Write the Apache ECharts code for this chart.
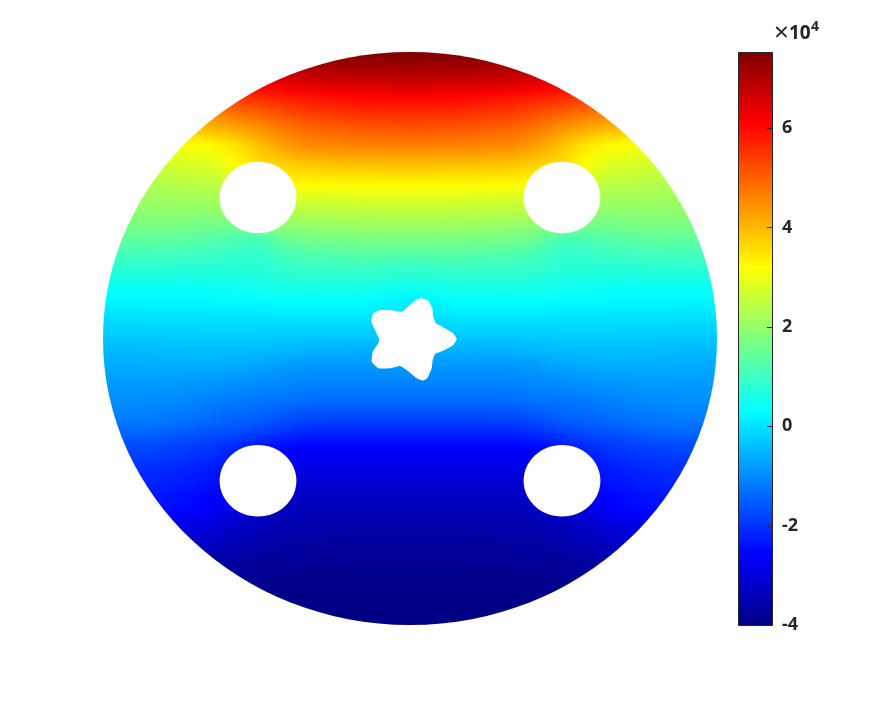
<!DOCTYPE html>
<html><head><meta charset="utf-8">
<script src="https://cdn.jsdelivr.net/npm/echarts@6/dist/echarts.min.js"></script>
<style>html,body{margin:0;padding:0;background:#fff}#c{width:891px;height:703px}</style>
</head><body><div id="c"></div>
<script>
// Field values are in units of 100; columns are distance from the vertical mid-line
const colOffsets = [0,50,100,125,152,175,200,230,265,307];
const rowY = [55,61,67,73,79,85,91,97,103,109,115,121,127,133,139,145,151,157,163,169,175,181,187,193,199,205,211,217,223,229,235,241,247,253,259,265,271,277,283,289,295,301,307,313,319,325,331,337,343,349,355,361,367,373,379,385,391,397,403,409,415,421,427,433,439,445,451,457,463,469,475,481,487,493,499,505,511,517,523,529,535,541,547,553,559,565,571,577,583,589,595,601,607,613,619,625];
const rowValues = [
[750,748,745,740,735,730,725,720,715,710],
[733,730,725,720,710,700,690,680,670,660],
[715,712,705,695,685,675,660,650,640,630],
[697,694,685,675,660,650,635,620,610,600],
[678,675,665,655,640,625,610,590,580,570],
[657,653,642,632,615,600,585,565,550,540],
[630,626,616,606,590,576,560,540,525,515],
[608,603,590,578,563,548,530,510,495,485],
[591,586,572,558,540,525,505,485,470,460],
[573,568,553,537,515,498,478,458,445,435],
[555,550,535,517,492,472,450,430,420,410],
[537,532,516,497,468,448,425,405,395,385],
[519,514,498,478,447,427,405,385,375,365],
[501,497,482,462,428,400,380,360,350,340],
[483,480,468,448,410,375,350,335,325,315],
[465,462,455,432,390,350,325,315,305,295],
[443,441,434,416,378,340,312,303,292,282],
[422,420,414,398,370,330,300,290,278,268],
[400,398,390,378,358,318,288,278,262,252],
[380,378,372,360,346,305,277,266,250,240],
[358,356,352,345,335,288,265,256,242,232],
[337,336,334,328,320,268,252,247,236,226],
[316,315,314,308,300,255,240,236,228,222],
[298,297,296,290,282,244,228,224,220,216],
[280,279,277,272,264,232,217,214,212,210],
[264,263,260,255,246,221,208,206,205,204],
[248,247,243,237,228,209,196,196,196,195],
[232,231,227,220,206,189,182,184,185,185],
[216,215,210,202,186,170,168,172,175,175],
[200,199,193,184,168,152,156,160,163,163],
[184,183,176,166,132,128,142,148,151,151],
[168,167,159,146,108,112,128,135,138,138],
[152,151,144,130,98,102,114,121,124,124],
[135,134,128,116,92,94,102,108,112,112],
[118,117,112,102,86,87,92,96,99,99],
[103,104,102,95,80,80,82,84,86,86],
[88,92,92,86,72,72,72,73,75,75],
[74,80,80,76,65,63,62,62,62,62],
[60,68,68,66,56,54,53,52,52,52],
[44,58,58,56,48,46,44,43,42,42],
[30,46,46,45,40,37,35,34,33,33],
[18,36,36,34,30,28,26,25,24,24],
[10,26,26,24,20,18,17,16,15,15],
[0,14,14,13,10,8,7,6,5,5],
[-10,2,2,2,0,-1,-2,-3,-4,-4],
[-20,-10,-10,-9,-9,-9,-10,-11,-12,-12],
[-30,-20,-21,-19,-17,-16,-17,-18,-20,-20],
[-38,-30,-30,-28,-25,-24,-24,-26,-28,-30],
[-48,-42,-40,-37,-33,-31,-31,-33,-36,-38],
[-58,-54,-50,-46,-42,-39,-38,-40,-43,-46],
[-68,-66,-62,-56,-51,-47,-45,-47,-50,-52],
[-72,-76,-76,-72,-61,-56,-53,-54,-56,-58],
[-82,-86,-86,-80,-71,-65,-62,-61,-62,-63],
[-92,-94,-94,-88,-81,-75,-71,-68,-68,-68],
[-100,-102,-102,-96,-91,-85,-80,-76,-74,-74],
[-110,-111,-110,-104,-100,-94,-88,-83,-80,-80],
[-118,-118,-118,-112,-108,-103,-96,-90,-86,-86],
[-128,-128,-127,-121,-117,-112,-104,-97,-92,-92],
[-141,-141,-140,-132,-126,-121,-112,-104,-98,-98],
[-155,-155,-154,-145,-135,-129,-120,-111,-104,-104],
[-170,-170,-169,-158,-144,-137,-128,-118,-110,-110],
[-186,-186,-185,-172,-153,-147,-137,-126,-118,-118],
[-201,-201,-200,-188,-168,-158,-152,-140,-130,-128],
[-218,-218,-217,-206,-188,-172,-165,-152,-142,-140],
[-234,-234,-234,-224,-204,-190,-179,-166,-156,-152],
[-250,-250,-250,-244,-230,-208,-190,-180,-170,-166],
[-262,-262,-262,-258,-243,-218,-198,-188,-180,-174],
[-270,-270,-270,-266,-252,-228,-208,-197,-188,-182],
[-279,-279,-279,-276,-262,-238,-218,-206,-197,-190],
[-288,-288,-289,-285,-271,-245,-226,-214,-205,-198],
[-298,-298,-298,-294,-277,-250,-231,-220,-211,-204],
[-307,-307,-307,-302,-281,-252,-234,-224,-214,-207],
[-315,-315,-314,-308,-288,-262,-241,-230,-220,-213],
[-323,-323,-322,-315,-296,-272,-248,-236,-226,-218],
[-330,-330,-329,-322,-303,-281,-255,-240,-231,-224],
[-337,-337,-336,-328,-308,-287,-260,-244,-236,-230],
[-343,-343,-341,-333,-313,-294,-268,-251,-242,-236],
[-349,-349,-347,-340,-324,-306,-282,-263,-252,-244],
[-354,-354,-352,-346,-333,-316,-295,-276,-264,-254],
[-359,-359,-357,-352,-341,-325,-305,-288,-275,-264],
[-364,-364,-361,-357,-346,-332,-312,-296,-284,-274],
[-368,-368,-366,-363,-352,-338,-320,-305,-293,-283],
[-372,-372,-370,-368,-358,-346,-330,-316,-304,-294],
[-376,-376,-374,-372,-366,-356,-342,-330,-318,-308],
[-380,-380,-378,-376,-372,-364,-352,-340,-330,-320],
[-383,-383,-381,-380,-376,-369,-359,-348,-338,-330],
[-386,-386,-385,-384,-380,-374,-365,-356,-346,-338],
[-388,-388,-388,-387,-384,-379,-371,-362,-354,-346],
[-391,-391,-390,-389,-387,-383,-377,-369,-361,-354],
[-393,-393,-392,-391,-389,-386,-381,-374,-367,-360],
[-395,-395,-394,-393,-391,-389,-385,-379,-373,-367],
[-396,-396,-395,-395,-393,-391,-388,-383,-378,-372],
[-397,-397,-397,-396,-395,-393,-391,-387,-382,-377],
[-398,-398,-398,-397,-396,-395,-393,-390,-386,-382],
[-399,-399,-399,-398,-398,-397,-395,-392,-389,-386],
[-400,-400,-400,-399,-399,-398,-397,-395,-392,-390]
];
const holeX = [-152,152,-152,152];
const holeY = [197.5,197.5,480.8,480.8];
const holeRx = [38.4,38.4,38.4,38.4];
const holeRy = [35.8,35.8,35.8,35.8];
const starX = [11.7,18.3,22.3,23.3,26,35,43.3,46.7,43.3,33.3,25,22.7,21.7,17.3,12.7,6.7,-3.3,-10,-20,-31.7,-38.3,-37.3,-31.7,-30.7,-35,-38.7,-36.7,-30,-20,-8.3,0,6.7];
const starY = [298.3,300.7,308.3,316.7,323.3,328.3,333.3,339.3,345,350.7,354,360,368.3,378.3,380.7,378.3,370,366,368.3,368.3,361.7,351.7,343.3,339.3,330,321.7,313.3,310,310,311.7,305,299.3];
const discCentreY = 338.5, discRx = 307, discRy = 286.5;
const colorMin = -400, colorMax = 753;
const barTicks = [-4,-2,0,2,4,6];
const jetStops = [[0,'#000084'],[0.125,'#0000ff'],[0.375,'#00ffff'],[0.625,'#ffff00'],[0.875,'#ff0000'],[1,'#800000']];

function jet(v){
  const t = Math.min(1,Math.max(0,(v-colorMin)/(colorMax-colorMin)));
  for(let i=1;i<jetStops.length;i++){
    if(t<=jetStops[i][0]){
      const a=jetStops[i-1], b=jetStops[i];
      return echarts.color.lerp((t-a[0])/(b[0]-a[0]),[a[1],b[1]]);
    }
  }
  return jetStops[jetStops.length-1][1];
}
// one pixel row per table row, mirrored about the mid-line; the library scales it onto the axes
function fieldTexture(){
  const cv=document.createElement('canvas');
  cv.width=614; cv.height=rowValues.length;
  const ctx=cv.getContext('2d');
  rowValues.forEach((vals,r)=>{
    const g=ctx.createLinearGradient(0,0,614,0);
    colOffsets.forEach((d,i)=>{
      const col=jet(vals[i]);
      g.addColorStop((307-d)/614,col);
      g.addColorStop((307+d)/614,col);
    });
    ctx.fillStyle=g;
    ctx.fillRect(0,r,614,1);
  });
  return cv;
}
const texture=fieldTexture();
const chart = echarts.init(document.getElementById('c'),null,{renderer:'canvas'});
const font = '"Noto Sans", "Open Sans", sans-serif';
const ink = '#262626';
chart.setOption({
  animation:false,
  backgroundColor:'#fff',
  grid:[{left:103,top:52,width:614,height:573},{left:738,top:52,width:34,height:573}],
  xAxis:[{type:'value',gridIndex:0,min:-307,max:307,show:false},{type:'value',gridIndex:1,min:0,max:1,show:false}],
  yAxis:[
    {type:'value',gridIndex:0,min:52,max:625,inverse:true,show:false},
    {type:'value',gridIndex:1,position:'right',min:-4,max:7.53,interval:2,
     axisLine:{show:false},splitLine:{show:false},axisTick:{show:false},
     axisLabel:{show:true,margin:10,color:ink,fontFamily:font,fontWeight:'bold',fontSize:18,customValues:barTicks,align:'left'}}
  ],
  series:[
    {type:'custom',xAxisIndex:0,yAxisIndex:0,clip:false,silent:true,z:1,data:[[0,discCentreY,discRx,discRy]],
     renderItem(p,api){
       const a=api.coord([-307,rowY[0]-3]), b=api.coord([307,rowY[rowY.length-1]+3]);
       const c=api.coord([api.value(0),api.value(1)]), sz=api.size([api.value(2),api.value(3)]);
       return {type:'image',style:{image:texture,x:a[0],y:a[1],width:b[0]-a[0],height:b[1]-a[1]},
         clipPath:{type:'ellipse',shape:{cx:c[0],cy:c[1],rx:sz[0],ry:sz[1]}}};
     }},
    {type:'custom',xAxisIndex:0,yAxisIndex:0,clip:false,silent:true,z:2,data:holeX.map((x,i)=>[x,holeY[i],holeRx[i],holeRy[i]]),
     renderItem(p,api){
       const c=api.coord([api.value(0),api.value(1)]), s=api.size([api.value(2),api.value(3)]);
       return {type:'ellipse',shape:{cx:c[0],cy:c[1],rx:s[0],ry:s[1]},style:{fill:'#fff'}};
     }},
    {type:'custom',xAxisIndex:0,yAxisIndex:0,clip:false,silent:true,z:2,data:[[0,0]],
     renderItem(p,api){
       return {type:'polygon',shape:{points:starX.map((x,i)=>api.coord([x,starY[i]])),smooth:0.12},style:{fill:'#fff'}};
     }},
    {type:'custom',xAxisIndex:1,yAxisIndex:1,clip:false,silent:true,z:3,data:[[0,colorMin/100,1,colorMax/100]],
     renderItem(p,api){
       const a=api.coord([api.value(0),api.value(3)]), b=api.coord([api.value(2),api.value(1)]);
       return {type:'rect',shape:{x:a[0]+0.5,y:a[1]+0.5,width:b[0]-a[0],height:b[1]-a[1]},
         style:{fill:new echarts.graphic.LinearGradient(0,1,0,0,jetStops.map(s=>({offset:s[0],color:s[1]}))),stroke:ink,lineWidth:1}};
     }},
    {type:'custom',xAxisIndex:1,yAxisIndex:1,clip:false,silent:true,z:4,data:barTicks.map(t=>[1,t]),
     renderItem(p,api){
       const c=api.coord([api.value(0),api.value(1)]);
       return {type:'line',shape:{x1:c[0]-5,y1:Math.round(c[1])+0.5,x2:c[0],y2:Math.round(c[1])+0.5},style:{stroke:ink,lineWidth:1}};
     }}
  ],
  graphic:[
    {type:'text',x:774,y:21,style:{text:'\u00d7',fontFamily:font,fontSize:26,fill:ink}},
    {type:'text',x:789,y:24,style:{text:'10',fontFamily:font,fontSize:19,fontWeight:'bold',fill:ink}},
    {type:'text',x:811,y:20,style:{text:'4',fontFamily:font,fontSize:14,fontWeight:'bold',fill:ink}}
  ]
});
</script></body></html>
